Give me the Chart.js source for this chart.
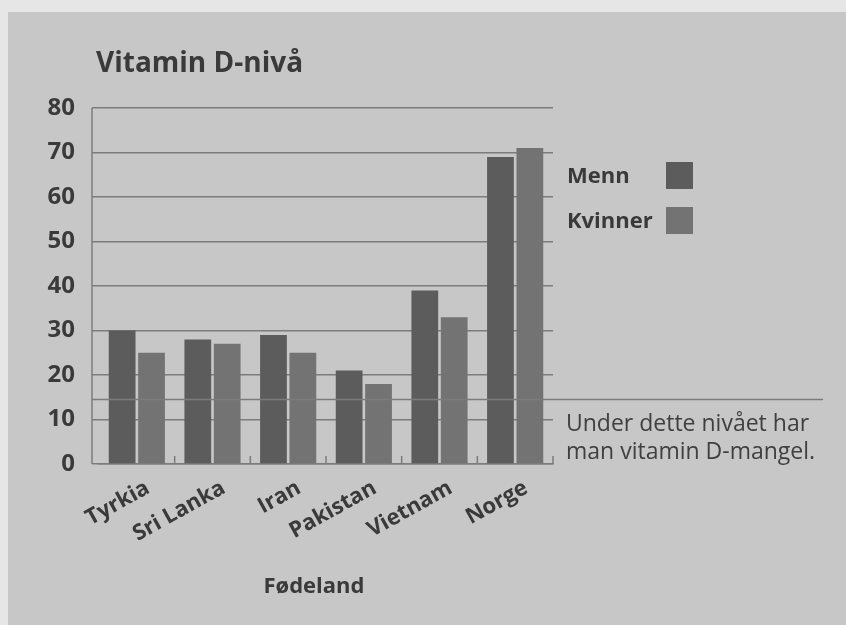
<!DOCTYPE html>
<html>
<head>
<meta charset="utf-8">
<script src="https://cdn.jsdelivr.net/npm/chart.js@4/dist/chart.umd.min.js"></script>
<style>
  html, body { margin: 0; padding: 0; background: #e6e6e6; }
  #wrap { width: 846px; height: 625px; position: relative; }
</style>
</head>
<body>
<div id="wrap"><canvas id="c" width="846" height="625"></canvas></div>
<script>
// ---- data ----
const categories = ['Tyrkia', 'Sri Lanka', 'Iran', 'Pakistan', 'Vietnam', 'Norge'];
const menn = [30, 28, 29, 21, 39, 69];
const kvinner = [25, 27, 25, 18, 33, 71];
const yTickValues = [0, 10, 20, 30, 40, 50, 60, 70, 80];
const deficiencyLevel = [14.5];
const titleText = 'Vitamin D-nivå';
const xAxisTitle = 'Fødeland';
const noteLines = ['Under dette nivået har', 'man vitamin D-mangel.'];

// ---- styles ----
const FONT = '"Open Sans", "Noto Sans", sans-serif';
const TEXT = '#3a3a3a';
const GRID = '#7c7c7c';
const BG = '#c7c7c7';
const C_MENN = '#5c5c5c';
const C_KVINNER = '#737373';

const decor = {
  id: 'decor',
  beforeDraw(chart) {
    const ctx = chart.ctx;
    ctx.save();
    ctx.fillStyle = '#e6e6e6';
    ctx.fillRect(0, 0, chart.width, chart.height);
    ctx.fillStyle = BG;
    ctx.fillRect(8, 12, chart.width - 8, chart.height - 12);
    ctx.restore();
  },
  afterDraw(chart) {
    const ctx = chart.ctx;
    const ys = chart.scales.y;
    const area = chart.chartArea;
    ctx.save();
    // title
    ctx.fillStyle = TEXT;
    ctx.font = 'bold 28px ' + FONT;
    ctx.textBaseline = 'alphabetic';
    ctx.textAlign = 'left';
    ctx.fillText(titleText, 96, 72);
    // y axis line
    const y0 = ys.getPixelForValue(0);
    const yTop = ys.getPixelForValue(80);
    ctx.strokeStyle = GRID;
    ctx.lineWidth = 1.5;
    ctx.beginPath();
    ctx.moveTo(92, yTop);
    ctx.lineTo(92, y0);
    ctx.stroke();
    // threshold line
    const yt = ys.getPixelForValue(deficiencyLevel[0]);
    ctx.beginPath();
    ctx.moveTo(92, yt);
    ctx.lineTo(823, yt);
    ctx.stroke();
    // upward category ticks
    const n = categories.length;
    const w = (area.right - area.left) / n;
    for (let i = 1; i <= n; i++) {
      const x = area.left + i * w;
      ctx.beginPath();
      ctx.moveTo(x, y0);
      ctx.lineTo(x, y0 - 8);
      ctx.stroke();
    }
    // legend
    const ds = chart.data.datasets;
    ctx.font = 'bold 22px ' + FONT;
    ds.forEach((d, i) => {
      const top = 162 + i * 45;
      ctx.fillStyle = TEXT;
      ctx.fillText(d.label, 567, top + 21);
      ctx.fillStyle = d.backgroundColor;
      ctx.fillRect(666, top, 27, 27);
    });
    // note
    ctx.fillStyle = '#404040';
    ctx.font = '23px ' + FONT;
    ctx.fillText(noteLines[0], 566, 431);
    ctx.fillText(noteLines[1], 566, 459);
    // x title
    ctx.font = 'bold 22px ' + FONT;
    ctx.fillStyle = TEXT;
    ctx.textAlign = 'center';
    ctx.fillText(xAxisTitle, 314, 593);
    ctx.restore();
  }
};

new Chart(document.getElementById('c'), {
  type: 'bar',
  data: {
    labels: categories,
    datasets: [
      { label: 'Menn', data: menn, backgroundColor: C_MENN },
      { label: 'Kvinner', data: kvinner, backgroundColor: C_KVINNER }
    ]
  },
  options: {
    responsive: false,
    animation: false,
    devicePixelRatio: 1,
    layout: { padding: { left: 0, right: 293, top: 108, bottom: 0 } },
    datasets: { bar: { categoryPercentage: 0.777, barPercentage: 0.91 } },
    plugins: { legend: { display: false }, title: { display: false }, tooltip: { enabled: false } },
    scales: {
      x: {
        grid: { display: false, drawTicks: false },
        border: { display: true, color: GRID, width: 1.5 },
        ticks: {
          color: TEXT,
          font: { family: FONT, size: 22, weight: 'bold' },
          minRotation: 29, maxRotation: 29,
          autoSkip: false,
          padding: 11,
          labelOffset: 11
        },
        afterFit(scale) { scale.height = 161; }
      },
      y: {
        min: 0, max: 80,
        afterBuildTicks(scale) { scale.ticks = yTickValues.map(v => ({ value: v })); },
        grid: { color: GRID, lineWidth: 1.5, drawTicks: true, tickLength: 7, tickColor: GRID },
        border: { display: false },
        ticks: {
          color: TEXT,
          font: { family: FONT, size: 24, weight: 'bold' },
          padding: 17
        },
        afterFit(scale) { scale.width = 99; }
      }
    }
  },
  plugins: [decor]
});
</script>
</body>
</html>
